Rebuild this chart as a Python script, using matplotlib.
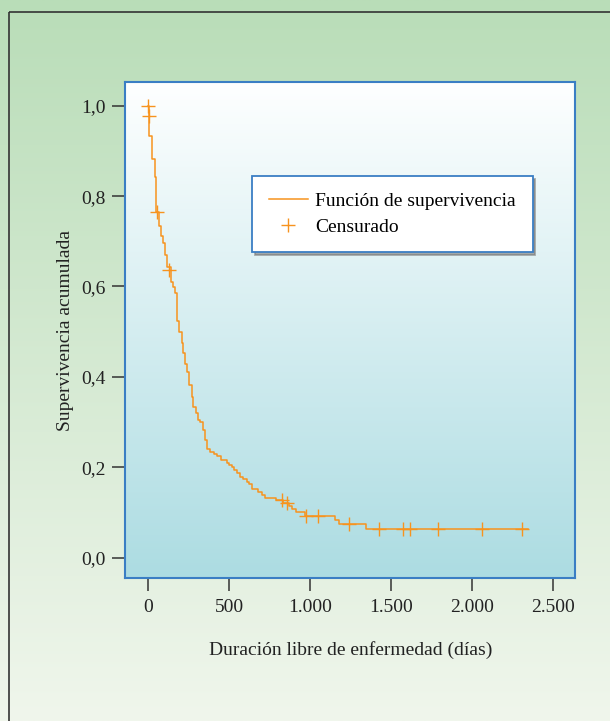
import numpy as np
import matplotlib
matplotlib.use("Agg")
import matplotlib.pyplot as plt
from matplotlib.patches import Rectangle

# Kaplan-Meier step curve: (time in days, survival after the step)
step_times = [0, 5, 8, 25, 41, 49, 68, 78, 94, 105, 115, 140, 156, 167, 181,
              191, 208, 218, 228, 239, 255, 270, 280, 294, 307, 321, 341, 352,
              366, 383, 409, 424, 449, 486, 502, 517, 531, 548, 568, 588, 609,
              625, 642, 681, 702, 722, 790, 832, 870, 890, 910, 969, 1150,
              1179, 1346, 2341]
step_surv = [1.0, 0.978, 0.933, 0.882, 0.843, 0.765, 0.734, 0.711, 0.696,
             0.669, 0.643, 0.610, 0.599, 0.585, 0.523, 0.500, 0.475, 0.452,
             0.428, 0.411, 0.382, 0.356, 0.333, 0.320, 0.304, 0.300, 0.282,
             0.260, 0.241, 0.234, 0.229, 0.224, 0.215, 0.209, 0.204, 0.201,
             0.195, 0.187, 0.178, 0.173, 0.167, 0.162, 0.153, 0.145, 0.138,
             0.133, 0.128, 0.122, 0.115, 0.108, 0.101, 0.0915, 0.0826,
             0.0737, 0.0642, 0.0642]

# censored observations
cens_times = [0, 8, 57, 130, 825, 860, 973, 1051, 1241, 1424, 1572, 1617,
              1786, 2060, 2307]
cens_surv = [1.0, 0.978, 0.765, 0.636, 0.128, 0.122, 0.0915, 0.0915, 0.0737,
             0.0642, 0.0642, 0.0642, 0.0642, 0.0642, 0.0642]

x_ticks = [0, 500, 1000, 1500, 2000, 2500]
x_labels = ["0", "500", "1.000", "1.500", "2.000", "2.500"]
y_ticks = [0.0, 0.2, 0.4, 0.6, 0.8, 1.0]
y_labels = ["0,0", "0,2", "0,4", "0,6", "0,8", "1,0"]

orange = "#f7931e"
blue = "#3a7ec4"
plt.rcParams["font.family"] = ["Liberation Serif", "DejaVu Serif"]
fs = 14

fig = plt.figure(figsize=(6.1, 7.21), dpi=100)

# figure background: green gradient with a thin dark border
bg = fig.add_axes([0, 0, 1, 1], zorder=-10)
bg.set_xlim(0, 610)
bg.set_ylim(721, 0)
bg.axis("off")
top_c = np.array([185, 221, 184]) / 255
bot_c = np.array([240, 246, 236]) / 255
t = np.linspace(0, 1, 256)[:, None, None]
grad = top_c * (1 - t) + bot_c * t
bg.imshow(grad, extent=[0, 610, 721, 0], aspect="auto")
bg.add_patch(Rectangle((8.5, 11.5), 640, 740, fill=False, edgecolor="#333333", lw=1.2))

ax = fig.add_axes([0.2049, 0.1977, 0.7385, 0.6886])
ax.set_xlim(-142, 2636)
ax.set_ylim(-0.046, 1.0525)

# plot area gradient: white at top, light teal at bottom
p_top = np.array([254, 255, 255]) / 255
p_bot = np.array([172, 220, 226]) / 255
pgrad = p_top * (1 - t) + p_bot * t
ax.imshow(pgrad, extent=[0, 1, 0, 1], transform=ax.transAxes, aspect="auto", zorder=0)

ax.plot(step_times, step_surv, drawstyle="steps-post", color=orange, lw=1.1,
        label="Función de supervivencia", zorder=3)
ax.plot(cens_times, cens_surv, linestyle="none", marker="+", markersize=10,
        markeredgewidth=1.0, color=orange, label="Censurado", zorder=4)

for s in ax.spines.values():
    s.set_color(blue)
    s.set_linewidth(1.5)

ax.set_xticks(x_ticks)
ax.set_xticklabels(x_labels)
ax.set_yticks(y_ticks)
ax.set_yticklabels(y_labels)
ax.tick_params(direction="out", length=9.5, width=1.1, color="#333333",
               labelsize=fs, labelcolor="#222222")
ax.tick_params(axis="x", pad=5.5)
ax.tick_params(axis="y", pad=4.5)

ax.set_xlabel("Duración libre de enfermedad (días)", fontsize=fs, color="#222222", labelpad=18)
ax.set_ylabel("Supervivencia acumulada", fontsize=fs, color="#222222", labelpad=5)

leg = ax.legend(loc="upper left", bbox_to_anchor=(0.282, 0.8107), borderaxespad=0,
                fancybox=False, shadow={"color": "#777777", "alpha": 0.6},
                framealpha=1, edgecolor=blue,
                fontsize=fs, handlelength=2.05, handletextpad=0.36,
                borderpad=0.85, labelspacing=0.42)
leg.get_frame().set_linewidth(1.3)

fig.savefig("out.png", dpi=100)
